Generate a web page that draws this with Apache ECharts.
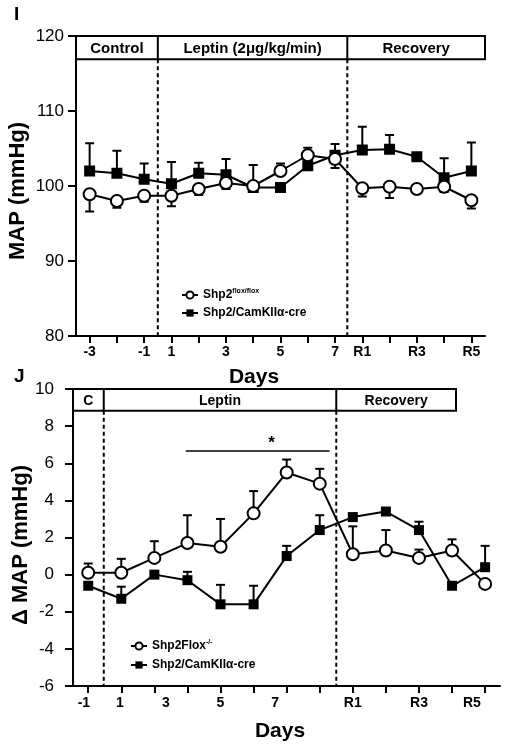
<!DOCTYPE html>
<html><head><meta charset="utf-8">
<script src="https://cdn.jsdelivr.net/npm/echarts@6/dist/echarts.min.js"></script>
<style>html,body{margin:0;padding:0;background:#fff}#c{width:505px;height:750px}</style>
</head><body><div id="c"></div><script>
const FONT = '"Liberation Sans", Arial, Helvetica, sans-serif';

// ---------- Panel I : MAP (mmHg) ----------
const topDays = ['-3','-2','-1','1','2','3','4','5','6','7','R1','R2','R3','R4','R5'];
const topLabelDays = ['-3','-1','1','3','5','7','R1','R3','R5'];
const topYTicks = [80, 90, 100, 110, 120];
const topFloxName = 'Shp2flox/flox';
const topCreName = 'Shp2/CamKIIα-cre';
const topFloxMAP = [98.9, 98.0, 98.7, 98.7, 99.6, 100.4, 100.0, 102.0, 104.1, 103.6, 99.7, 99.9, 99.6, 99.9, 98.1];
const topFloxErr = [-2.3, -0.9, -0.8, -1.4, -0.8, -0.8, -0.7, 1.0, 1.0, -1.2, -1.1, -1.5, -0.5, -0.7, -1.1];
const topCreMAP  = [102.0, 101.7, 100.9, 100.3, 101.7, 101.5, 99.8, 99.8, 102.7, 104.1, 104.8, 104.9, 103.9, 101.1, 102.0];
const topCreErr  = [3.7, 3.0, 2.1, 2.9, 1.4, 2.1, 3.0, 0, 0, 1.5, 3.1, 1.9, 0, 2.6, 3.8];
const topPhaseNames = ['Control', 'Leptin (2μg/kg/min)', 'Recovery'];
const topPhaseBounds = [-0.5, 2.5, 9.45, 14.5];   // day-index units
const topHeaderRange = [120, 116.9];               // MAP units

// ---------- Panel J : delta MAP (mmHg) ----------
const botDays = ['-1','1','2','3','4','5','6','7','R1','R2','R3','R4','R5'];
const botLabels = ['-1','1','3','5','7','R1','R3','R5'];
const botLabelAt = [-0.13, 0.96, 2.35, 4.0, 5.65, 8.0, 10.0, 11.6]; // where the labels sit, day-index units
const botYTicks = [-6, -4, -2, 0, 2, 4, 6, 8, 10];
const botFloxName = 'Shp2Flox-/-';
const botCreName = 'Shp2/CamKIIα-cre';
const botFloxDMAP = [0.1, 0.1, 0.9, 1.7, 1.5, 3.3, 5.5, 4.9, 1.1, 1.3, 0.9, 1.3, -0.5];
const botFloxErr  = [0.5, 0.75, 0.9, 1.5, 1.5, 1.2, 0.7, 0.8, 1.5, 1.1, 0.45, 0.6, 0];
const botCreDMAP  = [-0.6, -1.3, 0.0, -0.3, -1.6, -1.6, 1.0, 2.4, 3.1, 3.4, 2.4, -0.6, 0.4];
const botCreErr   = [0, 0.65, 0, 0.45, 1.05, 1.0, 0.55, 0.8, 0, 0, 0.45, 0, 1.15];
const botPhaseNames = ['C', 'Leptin', 'Recovery'];
const botPhaseBounds = [-0.46, 0.47, 7.5, 11.12];
const botHeaderRange = [10, 8.83];
const sigSpan = [2.95, 7.3];
const sigLevel = 6.66;
const sigMark = '*';

// ---------- helpers ----------
function pts(vals) { return vals.map((v, i) => [i, v]); }
function errPts(vals, errs) { return vals.map((v, i) => [i, v, errs[i]]); }

function errRender(params, api) {
  const e = api.value(2);
  if (!e) return;
  const x = api.value(0), y = api.value(1);
  const p0 = api.coord([x, y]);
  const p1 = api.coord([x, y + e]);
  const hw = 4.5;
  return {
    type: 'group',
    children: [
      { type: 'line', shape: { x1: p0[0], y1: p0[1], x2: p1[0], y2: p1[1] }, style: { stroke: '#000', lineWidth: 2 } },
      { type: 'line', shape: { x1: p1[0] - hw, y1: p1[1], x2: p1[0] + hw, y2: p1[1] }, style: { stroke: '#000', lineWidth: 2 } }
    ]
  };
}

function headerRender(bounds, names, yr, yMin, fontSize, extra) {
  return function (params, api) {
    if (params.dataIndex !== 0) return;
    const ch = [];
    const a = api.coord([bounds[0], yr[0]]);
    const b = api.coord([bounds[bounds.length - 1], yr[1]]);
    for (let k = 1; k < bounds.length - 1; k++) {
      const t = api.coord([bounds[k], yr[1]]);
      const m = api.coord([bounds[k], yMin]);
      ch.push({ type: 'line', shape: { x1: t[0], y1: t[1], x2: m[0], y2: m[1] },
        style: { stroke: '#000', lineWidth: 2, lineDash: [4, 3] } });
    }
    ch.push({ type: 'rect', shape: { x: a[0], y: a[1], width: b[0] - a[0], height: b[1] - a[1] },
      style: { fill: '#fff', stroke: '#000', lineWidth: 2 } });
    for (let k = 1; k < bounds.length - 1; k++) {
      const t0 = api.coord([bounds[k], yr[0]]);
      const t1 = api.coord([bounds[k], yr[1]]);
      ch.push({ type: 'line', shape: { x1: t0[0], y1: t0[1], x2: t1[0], y2: t1[1] }, style: { stroke: '#000', lineWidth: 2 } });
    }
    names.forEach((n, k) => {
      const m = api.coord([(bounds[k] + bounds[k + 1]) / 2, (yr[0] + yr[1]) / 2]);
      ch.push({ type: 'text', x: m[0], y: m[1] + 1, style: { text: n, fill: '#000', fontSize: fontSize,
        fontWeight: 'bold', fontFamily: FONT, align: 'center', verticalAlign: 'middle' } });
    });
    if (extra) extra(api, ch);
    return { type: 'group', children: ch };
  };
}

const lineStyleBlack = { color: '#000', width: 2 };
const openCircle = { color: '#fff', borderColor: '#000', borderWidth: 2 };
const filledSquare = { color: '#000', borderColor: '#000', borderWidth: 0 };

const chart = echarts.init(document.getElementById('c'), null, { renderer: 'canvas' });

const axisLineStyle = { show: true, onZero: false, lineStyle: { color: '#000', width: 2 } };
const tickStyle = { show: true, inside: false, length: 7, lineStyle: { color: '#000', width: 2 } };

const topLabelPos = topLabelDays.map(d => topDays.indexOf(d));

const richSup = { sup: { fontSize: 7, fontWeight: 'bold', fontFamily: FONT, color: '#000', verticalAlign: 'top', padding: [0, 0, 7, 0] } };
const legendText = { fontSize: 12, fontWeight: 'bold', fontFamily: FONT, color: '#000', rich: richSup };
function legendFmt(name) {
  if (name === topFloxName) return 'Shp2{sup|flox/flox}';
  if (name === botFloxName) return 'Shp2Flox{sup|-/-}';
  return name;
}

const option = {
  animation: false,
  backgroundColor: '#fff',
  grid: [
    { left: 76, top: 36, width: 409, height: 300 },
    { left: 73, top: 389, width: 427, height: 297 }
  ],
  xAxis: [
    { type: 'value', gridIndex: 0, min: -0.5, max: 14.5, axisLine: axisLineStyle,
      axisTick: Object.assign({ customValues: topDays.map((d, i) => i) }, tickStyle),
      axisLabel: { customValues: topLabelPos, margin: 9, color: '#000', fontSize: 14, fontWeight: 'bold', fontFamily: FONT,
        formatter: v => topDays[Math.round(v)] },
      splitLine: { show: false } },
    { type: 'value', gridIndex: 1, min: -0.46, max: 12.45, axisLine: axisLineStyle,
      axisTick: Object.assign({ customValues: botDays.map((d, i) => i) }, tickStyle),
      axisLabel: { customValues: botLabelAt, margin: 10, color: '#000', fontSize: 14, fontWeight: 'bold', fontFamily: FONT,
        formatter: v => { let best = 0; botLabelAt.forEach((p, k) => { if (Math.abs(p - v) < Math.abs(botLabelAt[best] - v)) best = k; }); return botLabels[best]; } },
      splitLine: { show: false } }
  ],
  yAxis: [
    { type: 'value', gridIndex: 0, min: topYTicks[0], max: topYTicks[topYTicks.length - 1], interval: 10,
      axisLine: axisLineStyle, axisTick: Object.assign({}, tickStyle, { length: 8 }),
      axisLabel: { margin: 12, color: '#000', fontSize: 17, fontFamily: FONT }, splitLine: { show: false } },
    { type: 'value', gridIndex: 1, min: botYTicks[0], max: botYTicks[botYTicks.length - 1], interval: 2,
      axisLine: axisLineStyle, axisTick: Object.assign({}, tickStyle, { length: 8 }),
      axisLabel: { margin: 19, color: '#000', fontSize: 17, fontFamily: FONT }, splitLine: { show: false } }
  ],
  legend: [
    { data: [topFloxName, topCreName], orient: 'vertical', left: 176, top: 283, itemWidth: 16, itemHeight: 9, itemGap: 6,
      textStyle: legendText, formatter: legendFmt, selectedMode: false },
    { data: [botFloxName, botCreName], orient: 'vertical', left: 125, top: 634, itemWidth: 16, itemHeight: 9, itemGap: 7,
      textStyle: legendText, formatter: legendFmt, selectedMode: false }
  ],
  graphic: [
    { type: 'text', left: 14, top: 5, style: { text: 'I', fontSize: 19, fontWeight: 'bold', fontFamily: FONT, fill: '#000' } },
    { type: 'text', left: 14, top: 367, style: { text: 'J', fontSize: 19, fontWeight: 'bold', fontFamily: FONT, fill: '#000' } },
    { type: 'text', x: 254, y: 377, style: { text: 'Days', fontSize: 21, fontWeight: 'bold', fontFamily: FONT, fill: '#000', align: 'center', verticalAlign: 'middle' } },
    { type: 'text', x: 280, y: 731, style: { text: 'Days', fontSize: 21, fontWeight: 'bold', fontFamily: FONT, fill: '#000', align: 'center', verticalAlign: 'middle' } },
    { type: 'text', x: 18, y: 191, rotation: Math.PI / 2, style: { text: 'MAP (mmHg)', fontSize: 22, fontWeight: 'bold', fontFamily: FONT, fill: '#000', align: 'center', verticalAlign: 'middle' } },
    { type: 'text', x: 21, y: 545, rotation: Math.PI / 2, style: { text: 'Δ MAP (mmHg)', fontSize: 22, fontWeight: 'bold', fontFamily: FONT, fill: '#000', align: 'center', verticalAlign: 'middle' } }
  ],
  series: [
    // panel I annotations
    { type: 'custom', xAxisIndex: 0, yAxisIndex: 0, data: [[0, 0]], clip: false, z: 1, silent: true,
      renderItem: headerRender(topPhaseBounds, topPhaseNames, topHeaderRange, topYTicks[0], 15) },
    // panel J annotations
    { type: 'custom', xAxisIndex: 1, yAxisIndex: 1, data: [[0, 0]], clip: false, z: 1, silent: true,
      renderItem: headerRender(botPhaseBounds, botPhaseNames, botHeaderRange, botYTicks[0], 14, (api, ch) => {
        const a = api.coord([sigSpan[0], sigLevel]), b = api.coord([sigSpan[1], sigLevel]);
        ch.push({ type: 'line', shape: { x1: a[0], y1: a[1], x2: b[0], y2: b[1] }, style: { stroke: '#000', lineWidth: 1.5 } });
        const s = api.coord([(sigSpan[0] + sigSpan[1]) / 2 + 0.42, sigLevel]);
        ch.push({ type: 'text', x: s[0], y: s[1] + 1, style: { text: sigMark, fill: '#000', fontSize: 17, fontWeight: 'bold', fontFamily: FONT, align: 'center', verticalAlign: 'bottom' } });
      }) },
    // error bars
    { type: 'custom', xAxisIndex: 0, yAxisIndex: 0, data: errPts(topCreMAP, topCreErr), renderItem: errRender, z: 2, silent: true },
    { type: 'custom', xAxisIndex: 0, yAxisIndex: 0, data: errPts(topFloxMAP, topFloxErr), renderItem: errRender, z: 2, silent: true },
    { type: 'custom', xAxisIndex: 1, yAxisIndex: 1, data: errPts(botCreDMAP, botCreErr), renderItem: errRender, z: 2, silent: true },
    { type: 'custom', xAxisIndex: 1, yAxisIndex: 1, data: errPts(botFloxDMAP, botFloxErr), renderItem: errRender, z: 2, silent: true },
    // lines
    { name: topCreName, type: 'line', xAxisIndex: 0, yAxisIndex: 0, data: pts(topCreMAP), symbol: 'rect', symbolSize: 11,
      lineStyle: lineStyleBlack, itemStyle: filledSquare, z: 3 },
    { name: topFloxName, type: 'line', xAxisIndex: 0, yAxisIndex: 0, data: pts(topFloxMAP), symbol: 'circle', symbolSize: 12,
      lineStyle: lineStyleBlack, itemStyle: openCircle, z: 4 },
    { name: botCreName, type: 'line', xAxisIndex: 1, yAxisIndex: 1, data: pts(botCreDMAP), symbol: 'rect', symbolSize: 10,
      lineStyle: lineStyleBlack, itemStyle: filledSquare, z: 3 },
    { name: botFloxName, type: 'line', xAxisIndex: 1, yAxisIndex: 1, data: pts(botFloxDMAP), symbol: 'circle', symbolSize: 12,
      lineStyle: lineStyleBlack, itemStyle: openCircle, z: 4 }
  ]
};
chart.setOption(option);
</script></body></html>
